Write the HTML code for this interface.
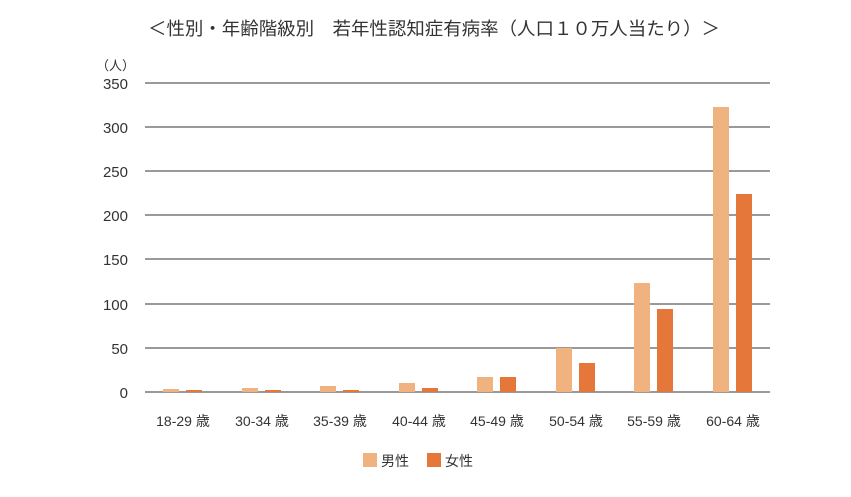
<!DOCTYPE html><html><head><meta charset="utf-8"><style>body{margin:0;background:#fff}</style></head><body>
<svg width="851" height="492" xmlns="http://www.w3.org/2000/svg" font-family="Liberation Sans, Noto Sans CJK JP, sans-serif">
<text x="148" y="35" textLength="572" lengthAdjust="spacingAndGlyphs" font-size="18" fill="#333">＜性別・年齢階級別　若年性認知症有病率（人口１０万人当たり）＞</text>
<text x="96" y="70" font-size="13" fill="#333">（人）</text>
<g stroke="#999" stroke-width="2">
<line x1="145" x2="770" y1="83" y2="83"/><line x1="145" x2="770" y1="127" y2="127"/><line x1="145" x2="770" y1="171" y2="171"/><line x1="145" x2="770" y1="215" y2="215"/><line x1="145" x2="770" y1="259" y2="259"/><line x1="145" x2="770" y1="304" y2="304"/><line x1="145" x2="770" y1="348" y2="348"/><line x1="145" x2="770" y1="392" y2="392"/>
</g>
<g font-size="15" fill="#333" text-anchor="end">
<text x="128" y="89">350</text><text x="128" y="133">300</text><text x="128" y="177">250</text><text x="128" y="221">200</text><text x="128" y="265">150</text><text x="128" y="310">100</text><text x="128" y="354">50</text><text x="128" y="398">0</text>
</g>
<g fill="#f0b27f">
<rect x="163" y="389" width="16" height="3"/><rect x="242" y="388" width="16" height="4"/><rect x="320" y="386" width="16" height="6"/><rect x="399" y="383" width="16" height="9"/><rect x="477" y="377" width="16" height="15"/><rect x="556" y="348" width="16" height="44"/><rect x="634" y="283" width="16" height="109"/><rect x="713" y="107" width="16" height="285"/>
</g>
<g fill="#e5773a">
<rect x="186" y="390" width="16" height="2"/><rect x="265" y="390" width="16" height="2"/><rect x="343" y="390" width="16" height="2"/><rect x="422" y="388" width="16" height="4"/><rect x="500" y="377" width="16" height="15"/><rect x="579" y="363" width="16" height="29"/><rect x="657" y="309" width="16" height="83"/><rect x="736" y="194" width="16" height="198"/>
</g>
<g font-size="14" fill="#333" text-anchor="middle">
<text x="183" y="426">18-29 歳</text><text x="262" y="426">30-34 歳</text><text x="340" y="426">35-39 歳</text><text x="419" y="426">40-44 歳</text><text x="497" y="426">45-49 歳</text><text x="576" y="426">50-54 歳</text><text x="654" y="426">55-59 歳</text><text x="733" y="426">60-64 歳</text>
</g>
<rect x="363" y="453" width="14" height="14" fill="#f0b27f"/><text x="381" y="466" font-size="14" fill="#333">男性</text>
<rect x="427" y="453" width="14" height="14" fill="#e5773a"/><text x="445" y="466" font-size="14" fill="#333">女性</text>
</svg>
</body></html>
